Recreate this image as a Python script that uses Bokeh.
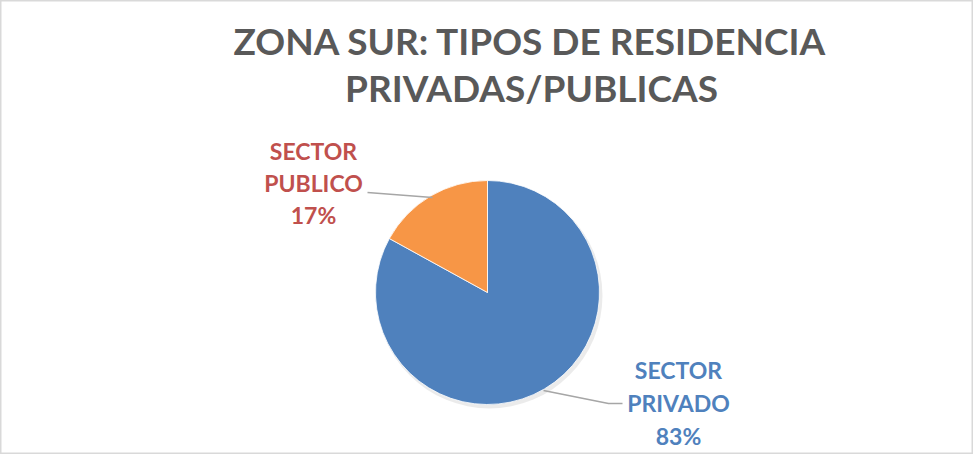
import math
from bokeh.plotting import figure
from bokeh.models import Range1d, ColumnDataSource
from bokeh.core.properties import value
from bokeh.embed import file_html
from bokeh.resources import INLINE

# data
categories = ["SECTOR PRIVADO", "SECTOR PUBLICO"]
shares = [83, 17]
label_lines = [["SECTOR", "PRIVADO", "83%"], ["SECTOR", "PUBLICO", "17%"]]
title_lines = ["ZONA SUR: TIPOS DE RESIDENCIA", "PRIVADAS/PUBLICAS"]

colors = ["#4F81BD", "#F79646"]
label_colors = ["#4F81BD", "#C0504D"]

W, H = 973, 454
p = figure(width=W, height=H, output_backend="svg", toolbar_location=None,
           x_range=Range1d(0, W), y_range=Range1d(0, H), min_border=0)
p.axis.visible = False
p.grid.visible = False
p.outline_line_color = "#D9D9D9"
p.outline_line_width = 2
p.background_fill_color = "white"
p.border_fill_color = "white"

def px(X):
    return X
def py(Y):
    return H - Y

cx, cy, r = px(487), py(292), 112

# wedges: start at 12 o'clock, clockwise
total = sum(shares)
starts, ends = [], []
cum = 0.0
for s in shares:
    starts.append(math.radians(90 - cum / total * 360))
    cum += s
    ends.append(math.radians(90 - cum / total * 360))

# subtle shadow
p.circle(x=[cx + 2], y=[cy - 3], radius=r + 1, fill_color="#000000", fill_alpha=0.08,
         line_color=None)
src = ColumnDataSource(dict(start=starts, end=ends, color=colors, cat=categories))
p.wedge(x=cx, y=cy, radius=r, start_angle="start", end_angle="end", direction="clock",
        fill_color="color", line_color="white", line_width=0.8, source=src)

# leader lines
p.line(x=[px(367), px(432)], y=[py(192), py(197)], line_color="#A6A6A6", line_width=1.5)
p.line(x=[px(543), px(608), px(622)], y=[py(390), py(403), py(403)],
       line_color="#A6A6A6", line_width=1.5)

# title
p.text(x=[px(530), px(531)], y=[py(40), py(87)], text=title_lines,
       text_font=value("Lato"), text_font_style="bold", text_font_size="37px",
       text_color="#595959", text_align="center", text_baseline="alphabetic")

# data labels
label_pos = [(678, [369, 402, 435]), (313, [150, 182, 214])]
for i, (lx, ys) in enumerate(label_pos):
    p.text(x=[px(lx)] * 3, y=[py(v) for v in ys], text=label_lines[i],
           text_font=value("Lato"), text_font_style="bold", text_font_size="23px",
           text_color=label_colors[i], text_align="center", text_baseline="alphabetic")

open("out.html", "w").write(file_html(p, INLINE))
